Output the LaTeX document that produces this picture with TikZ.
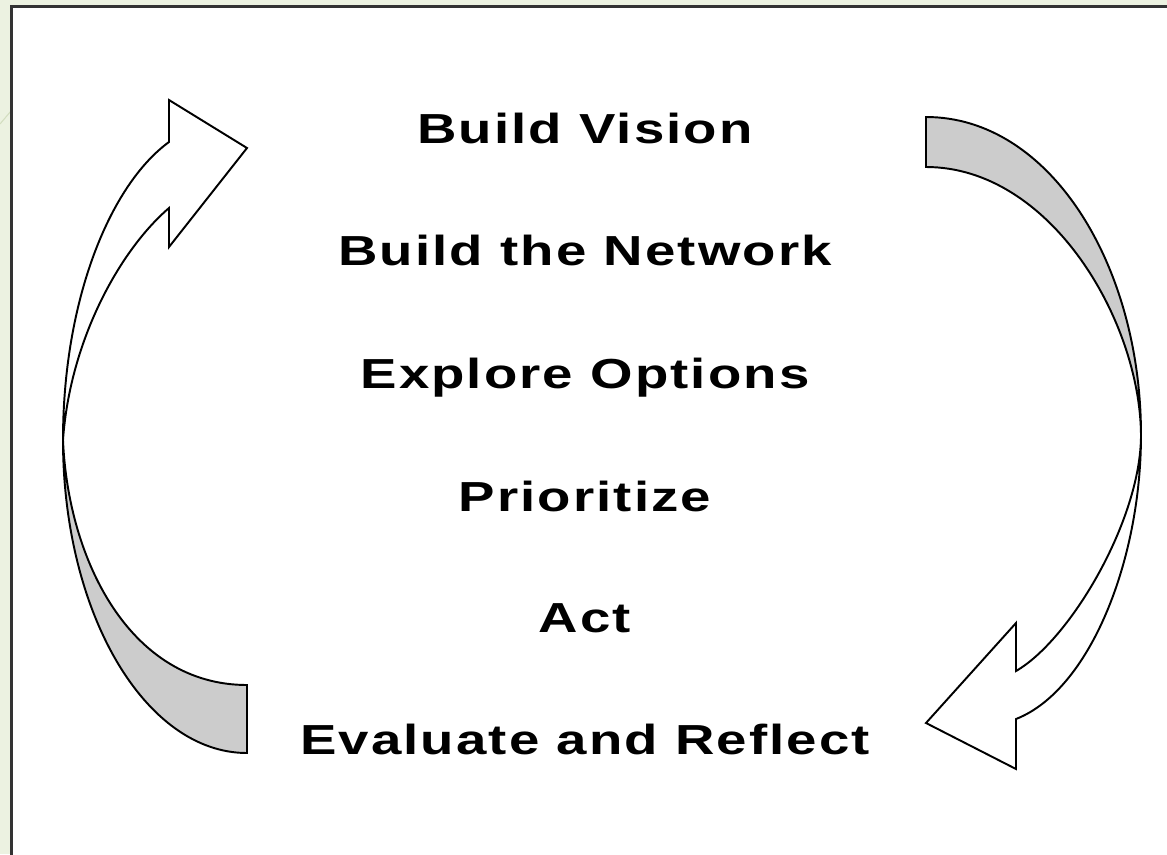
\documentclass[tikz,border=0pt]{standalone}
\usepackage{fontspec}
\newfontfamily\labfont{Liberation Sans}[FakeStretch=1.3,LetterSpace=5.0]
\definecolor{bggreen}{HTML}{ECF2E1}
\definecolor{diagline}{HTML}{D3DEC0}
\definecolor{framegray}{HTML}{333333}
\definecolor{bandgray}{HTML}{CCCCCC}
\tikzset{
  label/.style={anchor=base, inner sep=0pt, font=\labfont\bfseries\fontsize{31.5pt}{36pt}\selectfont, text=black},
  arrowpart/.style={draw=black, line width=1.45pt, line join=miter},
}
\begin{document}
\begin{tikzpicture}[x=0.75pt,y=-0.75pt]
\useasboundingbox (0,0) rectangle (1167,854);
\clip (0,0) rectangle (1167,854);
% slide background and frame
\fill[bggreen] (0,0) rectangle (1167,854);
\draw[diagline, line width=0.8pt] (0,124) -- (11,111);
\fill[white] (11,6) rectangle (1180,870);
\draw[framegray, line width=2.2pt] (11.5,870) -- (11.5,6.5) -- (1180,6.5);

% left arrow: white front part (head at top)
\path[arrowpart, fill=white]
  (63,440) .. controls (63,300) and (110,185) .. (169,142)
  -- (169,100) -- (247,148) -- (169,247) -- (169,208)
  .. controls (120,250) and (70,340) .. (63,440)
  -- cycle;
% left arrow: grey back part (tail at bottom)
\path[arrowpart, fill=bandgray]
  (63,440) .. controls (68,560) and (130,685) .. (247,685)
  -- (247,753)
  .. controls (145,753) and (63,613) .. (63,440)
  -- cycle;

% right arrow: grey back part (tail at top)
\path[arrowpart, fill=bandgray]
  (926,117) .. controls (1050,117) and (1141,265) .. (1141,435)
  .. controls (1140,320) and (1050,167) .. (926,167)
  -- cycle;
% right arrow: white front part (head at bottom)
\path[arrowpart, fill=white]
  (1141,435) .. controls (1141,520) and (1070,640) .. (1016,671)
  -- (1016,623) -- (926,723) -- (1016,769) -- (1016,719)
  .. controls (1090,690) and (1141,560) .. (1141,435)
  -- cycle;

% labels
\node[label] (t1) at (585,143) {Build Vision};
\node[label] (t2) at (585,265) {Build the Network};
\node[label] (t3) at (585,388) {Explore Options};
\node[label] (t4) at (585,511) {Prioritize};
\node[label] (t5) at (585,632) {Act};
\node[label] (t6) at (585,754) {Evaluate and Reflect};
\end{tikzpicture}
\end{document}
